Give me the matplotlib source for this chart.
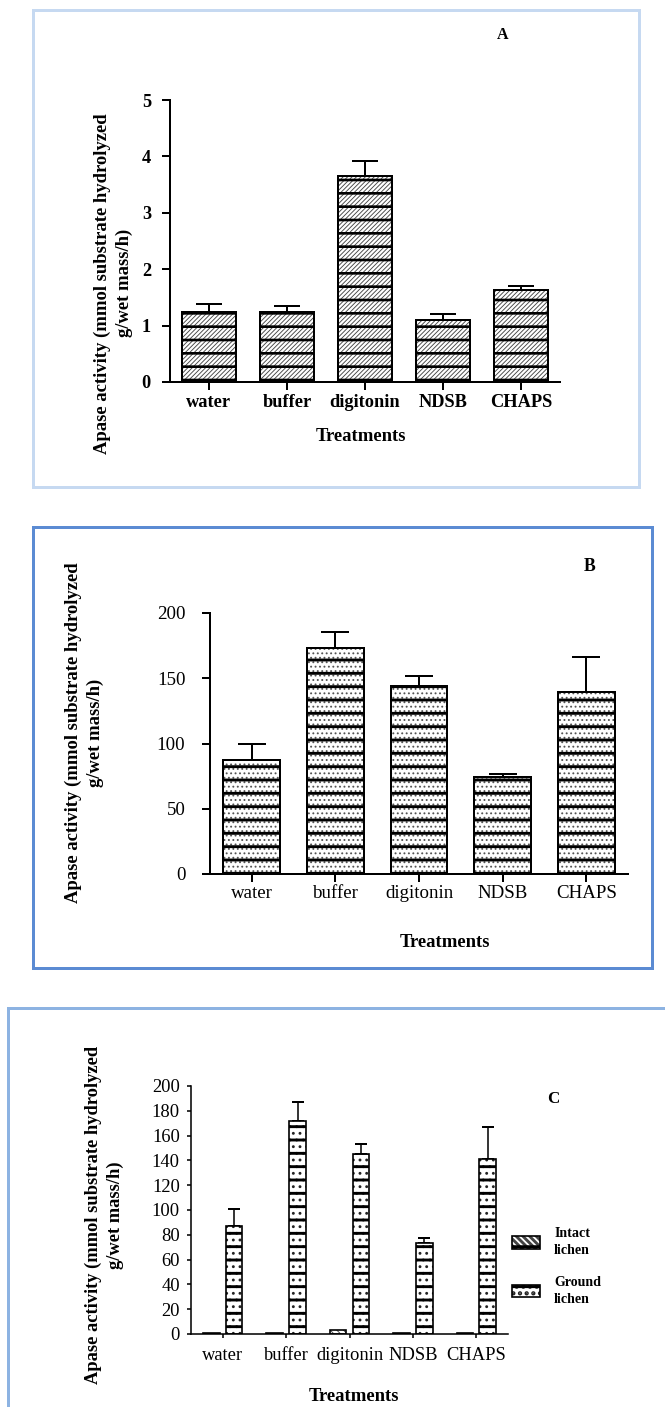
import numpy as np
import matplotlib.pyplot as plt
from matplotlib.patches import Rectangle
from matplotlib.legend_handler import HandlerTuple

# categories shared by the three panels
treatments = ['water', 'buffer', 'digitonin', 'NDSB', 'CHAPS']

# panel A
a_mean = [1.25, 1.25, 3.66, 1.10, 1.63]
a_err = [0.13, 0.10, 0.25, 0.11, 0.08]

# panel B
b_mean = [87.5, 173, 144, 74, 139.5]
b_err = [12, 12.5, 7.7, 2.3, 26.5]

# panel C
c_intact = [1, 1, 3.5, 1, 1]
c_ground = [87, 172, 145, 73.5, 141]
c_ground_err = [14, 15, 8, 4, 26]
c_labels = ['Intact\nlichen', 'Ground\nlichen']

ylab = 'Apase activity (mmol substrate hydrolyzed\ng/wet mass/h)'

DPI = 80
W, H = 665, 1407
plt.rcParams['font.family'] = ['Liberation Serif', 'DejaVu Serif']
fig = plt.figure(figsize=(W / DPI, H / DPI), dpi=DPI)


def pt(p):
    # pixels -> points
    return p * 72 / DPI


def axes_at(l, t, r, b):
    return fig.add_axes([l / W, 1 - b / H, (r - l) / W, (b - t) / H])


def frame(l, t, r, b, color):
    fig.add_artist(Rectangle((l / W, 1 - b / H), (r - l) / W, (b - t) / H,
                             transform=fig.transFigure, fill=False,
                             edgecolor=color, linewidth=pt(3)))


def hatched(ax, x, h, w, hatch, color, hlw, **kw):
    plt.rcParams['hatch.linewidth'] = hlw
    bars = ax.bar(x, h, w, hatch=hatch, edgecolor=color, **kw)
    for b in bars:
        if hasattr(b, 'set_hatch_linewidth'):
            b.set_hatch_linewidth(hlw)
    return bars


def striped_bars(ax, x, h, w, under, under_color, under_lw, stripe_lw, edge_lw):
    b1 = hatched(ax, x, h, w, under, under_color, under_lw,
                 facecolor='white', linewidth=0, zorder=2)
    b2 = hatched(ax, x, h, w, '-', 'black', stripe_lw,
                 facecolor='none', linewidth=edge_lw, zorder=3)
    return b1, b2


def style(ax, ylim, yticks, tick_len, lw, fs, xpad, ypad, bold):
    ax.spines[['top', 'right']].set_visible(False)
    ax.spines['left'].set_linewidth(lw)
    ax.spines['bottom'].set_linewidth(lw)
    ax.set_xlim(-0.5, 4.5)
    ax.set_ylim(*ylim)
    ax.set_yticks(yticks)
    ax.set_xticks(range(len(treatments)))
    ax.set_xticklabels(treatments)
    ax.tick_params(length=tick_len, width=lw, labelsize=fs)
    ax.tick_params(axis='x', pad=xpad)
    ax.tick_params(axis='y', pad=ypad)
    if bold:
        for t in ax.get_xticklabels() + ax.get_yticklabels():
            t.set_fontweight('bold')


# frames around the panels
frame(33, 10, 639, 487, '#c6d9f1')
frame(33, 527, 652, 968, '#5b8bd3')
frame(8, 1008, 700, 1450, '#8db3e2')

x = np.arange(len(treatments))

# ---------------- A ----------------
axA = axes_at(170, 100, 560, 382)
striped_bars(axA, x, a_mean, 0.68, '//////', '#444444', 0.8, 2.4, 1.8)
axA.errorbar(x, a_mean, yerr=[np.zeros(5), a_err], fmt='none', ecolor='black',
             elinewidth=1.8, capsize=11.5, capthick=1.8, zorder=1)
style(axA, (0, 5), range(0, 6), pt(8), 1.8, 16.5, 4, 10, True)
axA.set_ylabel(ylab, fontsize=16.8, fontweight='bold', ha='center', va='center',
               linespacing=1.35)
axA.yaxis.set_label_coords(-0.145, 0.35)
axA.set_xlabel('Treatments', fontsize=16.8, fontweight='bold', va='center')
axA.xaxis.set_label_coords(0.49, -0.195)
axA.text(0.854, 1.23, 'A', transform=axA.transAxes, fontsize=14.4,
         fontweight='bold', ha='center', va='center')

# ---------------- B ----------------
axB = axes_at(210, 613, 628, 874)
striped_bars(axB, x, b_mean, 0.68, '...', '#555555', 1.0, 2.6, 1.8)
axB.errorbar(x, b_mean, yerr=[np.zeros(5), b_err], fmt='none', ecolor='black',
             elinewidth=1.8, capsize=13, capthick=1.8, zorder=1)
style(axB, (0, 200), range(0, 201, 50), pt(8), 1.8, 17, 2.5, 15, False)
axB.set_ylabel(ylab, fontsize=16.8, fontweight='bold', ha='center', va='center',
               linespacing=1.35)
axB.yaxis.set_label_coords(-0.30, 0.54)
axB.set_xlabel('Treatments', fontsize=16.8, fontweight='bold', va='center')
axB.xaxis.set_label_coords(0.562, -0.264)
axB.text(0.907, 1.18, 'B', transform=axB.transAxes, fontsize=16,
         fontweight='bold', ha='center', va='center')

# ---------------- C ----------------
axC = axes_at(191, 1086, 508, 1334)
w = 0.26
intact = striped_bars(axC, x - 0.18, c_intact, w, '\\\\\\\\', '#444444', 0.8, 2.6, 1.5)
ground = striped_bars(axC, x + 0.18, c_ground, w, '..', '#222222', 1.4, 2.6, 1.5)
axC.errorbar(x + 0.18, c_ground, yerr=[np.zeros(5), c_ground_err], fmt='none',
             ecolor='black', elinewidth=1.4, capsize=5, capthick=1.8, zorder=1)
style(axC, (0, 200), range(0, 201, 20), pt(4), 1.4, 16.6, 8, 6.5, False)
axC.set_ylabel(ylab, fontsize=16.6, fontweight='bold', ha='center', va='center',
               linespacing=1.35)
axC.yaxis.set_label_coords(-0.273, 0.48)
axC.set_xlabel('Treatments', fontsize=16.8, fontweight='bold', va='center')
axC.xaxis.set_label_coords(0.514, -0.254)
axC.text(1.142, 0.948, 'C', transform=axC.transAxes, fontsize=15.3,
         fontweight='bold', ha='center', va='center')

leg = axC.legend([(intact[0][0], intact[1][0]), (ground[0][0], ground[1][0])],
                 c_labels, handler_map={tuple: HandlerTuple(ndivide=1)},
                 loc='upper left', bbox_to_anchor=(1.013, 0.43), frameon=False,
                 prop={'weight': 'bold', 'size': 12.6}, handlelength=2.0,
                 handleheight=1.0, handletextpad=1.0, labelspacing=1.3,
                 borderpad=0, borderaxespad=0)
for t in leg.get_texts():
    t.set_linespacing(1.4)

fig.savefig('out.png', dpi=DPI)
